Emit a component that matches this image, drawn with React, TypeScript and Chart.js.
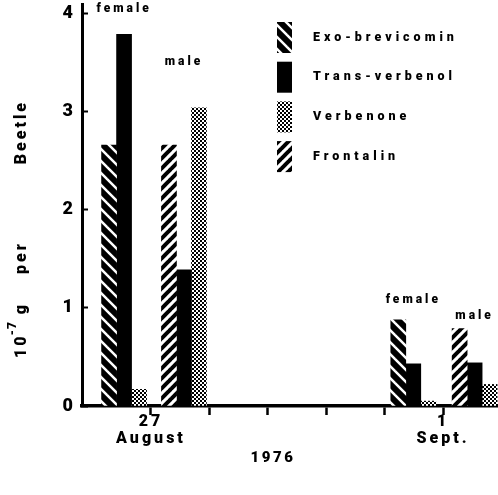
import React, { useEffect, useRef } from 'react';
import { Chart, registerables } from 'chart.js';

Chart.register(...registerables);

const FONT = 'Roboto, "DejaVu Sans", sans-serif';
const WEIGHT = 900;

// Pheromone components measured per beetle (units of 1e-7 g)
const compounds = ['Exo-brevicomin', 'Trans-verbenol', 'Verbenone', 'Frontalin'];
const groupSexes = ['female', 'male', 'female', 'male'];
// sample positions in days after 27 August 1976
const groupDays = [-0.46, 0.565, 4.49, 5.54];
const exoBrevicomin = [2.66, null, 0.88, null];
const transVerbenol = [3.79, 1.39, 0.43, 0.44];
const verbenone = [0.17, 3.04, 0.05, 0.22];
const frontalin = [null, 2.66, null, 0.79];

const dayTicks = [0, 1, 2, 3, 4, 5];
const dayTickLabels: (string | string[])[] = [['27', 'August'], '', '', '', '', ['1', 'Sept.']];
const yTicks = [0, 1, 2, 3, 4];
const yearLabel = '1976';
// y title pieces: base, exponent, remainder
const yTitleBase = '10';
const yTitleExp = '-7';
const yTitleRest = ' g    per           Beetle';

function makeTile(size: number, paint: (g: CanvasRenderingContext2D, s: number) => void) {
  const c = document.createElement('canvas');
  c.width = size;
  c.height = size;
  paint(c.getContext('2d') as CanvasRenderingContext2D, size);
  return c;
}

function stripes(ctx: CanvasRenderingContext2D, size: number, bg: string, fg: string, width: number, rising: boolean) {
  const t = makeTile(size, (g, s) => {
    g.fillStyle = bg;
    g.fillRect(0, 0, s, s);
    g.strokeStyle = fg;
    g.lineWidth = width;
    for (let k = -1; k <= 1; k++) {
      g.beginPath();
      if (rising) {
        g.moveTo(k * s - 1, s + 1);
        g.lineTo(k * s + s + 1, -1);
      } else {
        g.moveTo(k * s - 1, -1);
        g.lineTo(k * s + s + 1, s + 1);
      }
      g.stroke();
    }
  });
  return ctx.createPattern(t, 'repeat') as CanvasPattern;
}

function dots(ctx: CanvasRenderingContext2D) {
  const t = makeTile(4, (g) => {
    g.fillStyle = '#fff';
    g.fillRect(0, 0, 4, 4);
    g.fillStyle = '#000';
    g.fillRect(0, 0, 2, 2);
    g.fillRect(2, 2, 2, 2);
  });
  return ctx.createPattern(t, 'repeat') as CanvasPattern;
}

const spacing = {
  id: 'spacing',
  beforeLayout(chart: Chart) {
    (chart.ctx as any).letterSpacing = '3px';
  },
  beforeDraw(chart: Chart) {
    (chart.ctx as any).letterSpacing = '3px';
  },
};

// group captions, legend and axis titles
const annotations = {
  id: 'annotations',
  afterDraw(chart: Chart) {
    const ctx = chart.ctx as any;
    const xs = chart.scales.x;
    const ys = chart.scales.y;
    const lift = [25, 46, 20, 13];
    ctx.save();
    ctx.fillStyle = '#000';
    ctx.textAlign = 'center';
    ctx.textBaseline = 'middle';
    ctx.letterSpacing = '3px';
    ctx.font = `${WEIGHT} 12px ${FONT}`;
    groupDays.forEach((d, i) => {
      const vals = [exoBrevicomin[i], transVerbenol[i], verbenone[i], frontalin[i]].filter((v) => v != null) as number[];
      const top = ys.getPixelForValue(Math.max(...vals));
      ctx.fillText(groupSexes[i], xs.getPixelForValue(d), top - lift[i]);
    });

    // legend
    const boxX = 277;
    const firstTop = 22;
    const step = 39.7;
    ctx.font = `${WEIGHT} 12.5px ${FONT}`;
    ctx.letterSpacing = '4px';
    compounds.forEach((name, i) => {
      const ds = chart.data.datasets.find((s) => s.label === name) as any;
      const top = firstTop + i * step;
      ctx.fillStyle = ds.backgroundColor;
      ctx.fillRect(boxX, top, 15, 31);
      ctx.fillStyle = '#000';
      ctx.textAlign = 'left';
      ctx.fillText(name, 313, top + 15.5);
    });

    // x title
    ctx.textAlign = 'center';
    ctx.font = `${WEIGHT} 15px ${FONT}`;
    ctx.letterSpacing = '2.5px';
    ctx.fillText(yearLabel, 273, 458);

    // y title, read bottom to top, with a raised exponent
    ctx.translate(22, 228);
    ctx.rotate(-Math.PI / 2);
    ctx.textAlign = 'left';
    ctx.letterSpacing = '3px';
    const big = `${WEIGHT} 16px ${FONT}`;
    const small = `${WEIGHT} 12px ${FONT}`;
    ctx.font = big;
    const wBase = ctx.measureText(yTitleBase).width;
    const wRest = ctx.measureText(yTitleRest).width;
    ctx.font = small;
    ctx.letterSpacing = '1px';
    const wExp = ctx.measureText(yTitleExp).width;
    let x = -(wBase + wExp + wRest) / 2;
    ctx.font = big;
    ctx.letterSpacing = '3px';
    ctx.fillText(yTitleBase, x, 0);
    x += wBase - 2;
    ctx.font = small;
    ctx.letterSpacing = '1px';
    ctx.fillText(yTitleExp, x, -9);
    x += wExp;
    ctx.font = big;
    ctx.letterSpacing = '3px';
    ctx.fillText(yTitleRest, x, 0);
    ctx.restore();
  },
};

export default function App() {
  const ref = useRef<HTMLCanvasElement>(null);

  useEffect(() => {
    const canvas = ref.current as HTMLCanvasElement;
    const ctx = canvas.getContext('2d') as CanvasRenderingContext2D;
    const fills: Record<string, CanvasPattern | string> = {
      'Exo-brevicomin': stripes(ctx, 12, '#000', '#fff', 2.5, false),
      'Trans-verbenol': '#000',
      Verbenone: dots(ctx),
      Frontalin: stripes(ctx, 10, '#fff', '#000', 4, true),
    };
    const series: Record<string, (number | null)[]> = {
      'Exo-brevicomin': exoBrevicomin,
      Frontalin: frontalin,
      'Trans-verbenol': transVerbenol,
      Verbenone: verbenone,
    };
    // bar order inside each group
    const barOrder = ['Exo-brevicomin', 'Frontalin', 'Trans-verbenol', 'Verbenone'];

    const chart = new Chart(canvas, {
      type: 'bar',
      data: {
        datasets: barOrder.map((name) => ({
          label: name,
          data: groupDays.map((d, i) => ({ x: d, y: series[name][i] })) as any,
          backgroundColor: fills[name] as any,
          borderWidth: 0,
          barThickness: 15,
          skipNull: true,
        })),
      },
      options: {
        responsive: false,
        animation: false,
        layout: { padding: { top: 4, left: 0, right: 0, bottom: 0 } },
        plugins: { legend: { display: false }, tooltip: { enabled: false } },
        scales: {
          x: {
            type: 'linear',
            min: -1.18,
            max: 5.94,
            offset: false,
            z: 1,
            afterBuildTicks: (s: any) => {
              s.ticks = dayTicks.map((v) => ({ value: v }));
            },
            afterFit: (s: any) => {
              s.height = 89;
              s.paddingLeft = 0;
              s.paddingRight = 0;
            },
            grid: { offset: false, drawOnChartArea: false, drawTicks: true, tickLength: 9, tickWidth: 2.5, tickColor: '#000' },
            border: { display: true, color: '#000', width: 3.5 },
            ticks: {
              autoSkip: false,
              maxRotation: 0,
              padding: -2,
              color: '#000',
              font: { family: FONT, weight: WEIGHT as any, size: 16, lineHeight: 1.1 },
              callback: (v: any) => {
                const i = dayTicks.indexOf(Number(v));
                return i >= 0 ? dayTickLabels[i] : '';
              },
            },
          },
          y: {
            min: 0,
            max: 4.1,
            z: 1,
            afterBuildTicks: (s: any) => {
              s.ticks = yTicks.map((v) => ({ value: v }));
            },
            afterFit: (s: any) => {
              s.width = 82;
              s.paddingTop = 0;
              s.paddingBottom = 0;
            },
            grid: { drawOnChartArea: false, drawTicks: true, tickLength: -6, tickWidth: 2, tickColor: '#000' },
            border: { display: true, color: '#000', width: 3 },
            ticks: {
              padding: 12,
              color: '#000',
              font: { family: FONT, weight: WEIGHT as any, size: 18 },
              callback: (v: any) => String(v),
            },
          },
        },
      },
      plugins: [spacing, annotations],
    });
    return () => chart.destroy();
  }, []);

  return (
    <div style={{ position: 'fixed', left: 0, top: 0, width: 498, height: 495, background: '#fff' }}>
      <canvas ref={ref} width={498} height={495} style={{ display: 'block' }} />
    </div>
  );
}
